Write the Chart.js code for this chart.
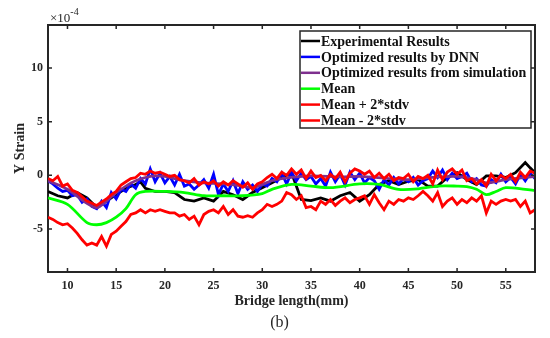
<!DOCTYPE html>
<html>
<head>
<meta charset="utf-8">
<script src="https://cdn.jsdelivr.net/npm/chart.js"></script>
<style>
  html, body { margin: 0; padding: 0; background: #fff; }
  #wrap { width: 550px; height: 338px; position: relative; }
</style>
</head>
<body>
<div id="wrap"><canvas id="strainChart"></canvas></div>
<script>
// tick labels
const xTicks = [10, 15, 20, 25, 30, 35, 40, 45, 50, 55];
const yTicks = [-5, 0, 5, 10];

// series values, in units of 1e-4
// DNN and the two red bands are sampled every 0.5 mm from 8 to 58
const dnnValues = [
  -0.5, -0.8, -1.2, -1.5, -1.4, -1.9, -1.8, -2.5, -2.2, -2.9,
  -3.1, -2.4, -3.0, -1.6, -2.2, -1.3, -1.5, -0.8, -1.2, -0.3,
  -0.8, 0.6, -0.6, 0.2, -0.7, -0.1, -0.9, 0.1, -1.0, -0.8,
  -1.3, -0.9, -0.4, -1.2, 0.1, -1.8, -0.8, -1.5, -0.5, -1.7,
  -0.6, -1.3, -0.9, -1.5, -0.8, -1.0, -0.3, -0.6, 0.2, -0.8,
  0.3, -0.5, 0.2, -0.4, -0.1, -0.8, -0.3, -1.0, 0.3, -0.6,
  0.1, -0.9, 0.3, -0.4, 0.2, -0.7, -0.2, -0.5, -1.3, -0.4,
  -0.9, -0.2, -0.8, -0.3, -0.6, -0.2, -0.9, -0.5, -0.3, 0.4,
  -0.2, 0.5, -0.4, 0.2, -0.3, -0.1, 0.2, -0.6, -0.3, -0.9,
  -1.0, -0.4, -0.7, 0.1, -0.6, -0.2, -0.8, 0.1, -0.5, 0.2,
  -0.3
];
const upperValues = [
  -0.3, -0.5, -0.1, -1.0, -0.8, -1.4, -1.6, -2.0, -2.4, -2.6,
  -2.8, -2.5, -2.2, -1.8, -1.5, -0.9, -0.6, -0.3, -0.2, 0.2,
  0.1, 0.4, 0.2, 0.3, 0.1, -0.1, 0.0, -0.4, -0.5, -0.7,
  -0.3, -0.9, -0.6, -0.8, -0.5, -1.0, -0.6, -0.9, -0.5, -0.8,
  -1.1, -0.7, -1.3, -0.8, -0.6, -0.2, 0.1, -0.3, 0.3, 0.0,
  0.6, 0.1, 0.5, -0.3, 0.4, -0.2, 0.0, -0.5, 0.1, -0.3,
  0.3, -0.6, 0.2, 0.6, 0.4, 0.1, 0.4, -0.2, 0.2, -0.3,
  0.1, -0.5, -0.2, -0.3, 0.1, -0.6, -0.1, -0.3, 0.0, -0.8,
  0.5, -0.4, 0.3, 0.6, 0.1, 0.5, -0.5, -0.3, -0.8, -0.4,
  -1.0, 0.1, -0.5, 0.0, -0.3, 0.1, -0.6, 0.3, -0.2, 0.4,
  0.2
];
const lowerValues = [
  -3.9, -4.1, -4.4, -4.6, -4.5, -4.9, -5.4, -6.0, -6.5, -6.3,
  -6.5, -5.7, -6.6, -5.5, -5.2, -4.75, -4.3, -3.65, -3.5, -3.2,
  -3.5, -3.2, -3.35, -3.2, -3.35, -3.5, -3.5, -3.8, -3.65, -4.1,
  -3.8, -4.6, -3.65, -3.35, -3.2, -3.5, -2.9, -3.65, -3.2, -3.8,
  -3.9, -3.75, -3.9, -3.5, -3.2, -2.7, -2.9, -2.7, -2.4, -1.6,
  -1.8, -2.25, -1.9, -3.0, -2.9, -3.2, -2.4, -2.7, -2.25, -2.8,
  -2.4, -2.1, -2.55, -2.25, -2.1, -1.9, -2.7, -1.8, -2.55, -3.2,
  -2.4, -2.7, -2.25, -2.4, -2.1, -2.25, -1.9, -1.5, -1.9, -2.4,
  -1.6, -2.9, -2.4, -2.1, -2.7, -2.25, -2.55, -2.1, -2.4, -1.9,
  -3.5, -2.4, -2.7, -2.4, -2.25, -2.4, -2.25, -2.9, -2.4, -3.5,
  -3.2
];

const expX = [8, 9, 10, 11, 12, 13, 14, 15, 16, 17, 17.5, 18, 19, 20, 21, 22, 23, 24, 25, 26,
  27, 28, 29, 30, 31, 32, 33, 34, 35, 36, 37, 38, 39, 40, 41, 42, 43, 44, 45, 46,
  47, 48, 49, 50, 51, 52, 53, 54, 55, 56, 57, 57.5, 58];
const expValues = [-1.5, -1.9, -2.1, -1.6, -2.1, -3.0, -2.4, -1.8, -1.2, -0.85, -0.6, -1.2, -1.5, -1.5, -1.6, -2.25, -2.4, -2.1, -2.4, -1.5,
  -1.8, -2.25, -1.6, -1.15, -0.7, -0.2, 0.25, -2.25, -2.35, -2.1, -2.4, -1.9, -1.6, -2.4, -1.8, -0.85, -0.5, -0.85, -0.55, -0.4,
  -1.0, -1.0, -0.2, 0.25, -0.4, -0.85, -0.05, -0.05, -0.2, 0.25, 1.2, 0.7, 0.25];

const simX = [8, 10, 12, 13, 14, 15, 16, 17, 18, 19, 20, 21, 22, 24, 26, 28, 29, 30, 31, 32,
  35, 38, 40, 43, 45, 48, 50, 52, 53, 55, 58];
const simValues = [-0.5, -1.3, -2.6, -3.0, -2.4, -1.6, -1.0, -0.5, -0.2, -0.05, -0.1, -0.3, -0.5, -0.7, -0.8, -1.0, -1.15, -0.85, -0.5, -0.3,
  -0.05, -0.15, -0.1, -0.3, -0.4, -0.15, -0.1, -0.4, -0.7, -0.4, -0.1];

const meanX = [8, 10, 12, 13, 14, 15, 16, 17, 18, 20, 22, 24, 26, 28, 30, 31, 33, 35, 37, 40,
  42, 44, 46, 48, 50, 51, 52, 53, 54, 55, 57, 58];
const meanValues = [-2.1, -2.7, -4.4, -4.6, -4.4, -3.9, -3.1, -1.8, -1.5, -1.5, -1.6, -1.9, -1.9, -1.9, -1.7, -1.3, -0.85, -1.0, -1.15, -0.8,
  -0.85, -1.3, -1.25, -1.0, -1.0, -1.05, -1.3, -1.8, -1.5, -1.15, -1.3, -1.4];

const labels = ["Experimental Results", "Optimized results by DNN", "Optimized results from simulation",
  "Mean", "Mean + 2*stdv", "Mean - 2*stdv"];
const colors = ["#000000", "#0000ff", "#7e2f8e", "#00ff00", "#ff0000", "#ff0000"];

const fineX = dnnValues.map((v, i) => 8 + i * 0.5);
const pairs = (xs, ys) => ys.map((y, i) => ({ x: xs[i], y: y }));

const serif = "'Liberation Serif', 'Times New Roman', serif";
const inkColor = "#262626";

const seriesData = [
  pairs(expX, expValues),
  pairs(fineX, dnnValues),
  pairs(simX, simValues),
  pairs(meanX, meanValues),
  pairs(fineX, upperValues),
  pairs(fineX, lowerValues),
];

// box, inward ticks, exponent label, caption and legend (MATLAB look)
const matlabFrame = {
  id: "matlabFrame",
  afterDraw(chart) {
    const { ctx, chartArea: a, scales } = chart;
    ctx.save();
    ctx.strokeStyle = inkColor;
    ctx.lineWidth = 2;
    ctx.beginPath();
    ctx.moveTo(a.left, a.top); ctx.lineTo(a.right, a.top); ctx.lineTo(a.right, a.bottom);
    ctx.stroke();
    ctx.lineWidth = 1.5;
    const tl = 4;
    xTicks.forEach((t) => {
      const px = scales.x.getPixelForValue(t);
      ctx.beginPath();
      ctx.moveTo(px, a.bottom); ctx.lineTo(px, a.bottom - tl);
      ctx.moveTo(px, a.top); ctx.lineTo(px, a.top + tl);
      ctx.stroke();
    });
    yTicks.forEach((t) => {
      const py = scales.y.getPixelForValue(t);
      ctx.beginPath();
      ctx.moveTo(a.left, py); ctx.lineTo(a.left + tl, py);
      ctx.moveTo(a.right, py); ctx.lineTo(a.right - tl, py);
      ctx.stroke();
    });

    // exponent
    ctx.fillStyle = inkColor;
    ctx.textBaseline = "alphabetic";
    ctx.textAlign = "left";
    ctx.font = "13px " + serif;
    ctx.fillText("\u00d710", a.left + 2, a.top - 3);
    const w = ctx.measureText("\u00d710").width;
    ctx.font = "10px " + serif;
    ctx.fillText("-4", a.left + 2 + w, a.top - 10);

    // caption
    ctx.font = "16px " + serif;
    ctx.textAlign = "center";
    ctx.textBaseline = "middle";
    ctx.fillText("(b)", (a.left + a.right) / 2 - 12, 323);

    // legend
    const lx = 300, ly = 31, lw = 231, lh = 97;
    ctx.fillStyle = "#ffffff";
    ctx.fillRect(lx, ly, lw, lh);
    ctx.strokeStyle = inkColor;
    ctx.lineWidth = 1.5;
    ctx.strokeRect(lx, ly, lw, lh);
    ctx.font = "bold 14px " + serif;
    ctx.textAlign = "left";
    chart.data.datasets.forEach((ds, i) => {
      const yy = ly + 10 + i * 15.9;
      ctx.strokeStyle = ds.borderColor;
      ctx.lineWidth = 2.5;
      ctx.beginPath();
      ctx.moveTo(lx + 1, yy); ctx.lineTo(lx + 20, yy);
      ctx.stroke();
      ctx.fillStyle = "#111";
      ctx.fillText(ds.label, lx + 21, yy + 1);
    });
    ctx.restore();
  },
};

const ctx = document.getElementById("strainChart").getContext("2d");
new Chart(ctx, {
  type: "line",
  data: {
    datasets: seriesData.map((d, i) => ({
      label: labels[i],
      data: d,
      borderColor: colors[i],
      borderWidth: 2.8,
      pointRadius: 0,
      tension: (i === 2 || i === 3) ? 0.3 : 0,
      fill: false,
      order: 6 - i,
    })),
  },
  options: {
    responsive: true,
    maintainAspectRatio: false,
    animation: false,
    layout: { padding: { left: 0, right: 15, top: 25, bottom: 0 } },
    plugins: { legend: { display: false }, tooltip: { enabled: false } },
    scales: {
      x: {
        type: "linear",
        min: 8,
        max: 58,
        afterFit: (s) => { s.height = 66; },
        afterBuildTicks: (s) => { s.ticks = xTicks.map((v) => ({ value: v })); },
        grid: { display: false, drawTicks: false },
        border: { display: true, color: inkColor, width: 2 },
        ticks: { color: inkColor, padding: 7, maxRotation: 0, font: { family: serif, size: 12, weight: "bold" } },
        title: {
          display: true,
          text: "Bridge length(mm)",
          color: inkColor,
          padding: { top: 0, bottom: 28 },
          font: { family: serif, size: 14, weight: "bold" },
        },
      },
      y: {
        min: -9,
        max: 14,
        afterFit: (s) => { s.width = 48; },
        afterBuildTicks: (s) => { s.ticks = yTicks.map((v) => ({ value: v })); },
        grid: { display: false, drawTicks: false },
        border: { display: true, color: inkColor, width: 2 },
        ticks: { color: inkColor, padding: 5, font: { family: serif, size: 12, weight: "bold" } },
        title: {
          display: true,
          text: "Y Strain",
          color: inkColor,
          padding: { top: 12, bottom: 0 },
          font: { family: serif, size: 14, weight: "bold" },
        },
      },
    },
  },
  plugins: [matlabFrame],
});
</script>
</body>
</html>
